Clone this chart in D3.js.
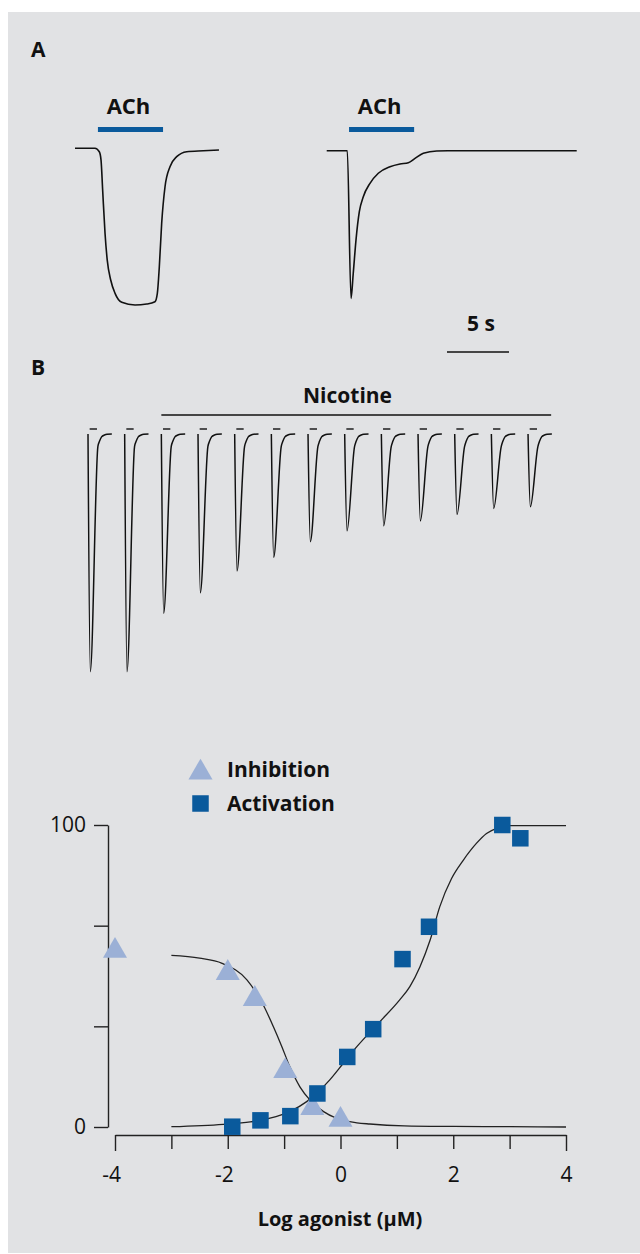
<!DOCTYPE html>
<html><head><meta charset="utf-8">
<script src="https://cdn.jsdelivr.net/npm/d3@7"></script>
<style>
body{margin:0;background:#fff}
svg{display:block}
text{font-family:"Open Sans","Noto Sans",sans-serif;fill:#111}
</style>
</head><body><svg id="c" width="640" height="1254"></svg>
<script>
// ---------- Panel A data (time in s, current normalised to peak of first trace) ----------
const traceA1 = [[0,0.011],[1.61,0.011],[1.96,-0.011],[2.10,-0.065],[2.23,-0.258],[2.42,-0.535],[2.60,-0.710],[2.88,-0.839],[3.23,-0.925],[3.77,-0.983],[4.84,-1.0],[5.78,-0.994],[6.45,-0.979],[6.64,-0.925],[6.80,-0.753],[6.99,-0.473],[7.26,-0.237],[7.66,-0.108],[8.20,-0.043],[9.01,-0.011],[10.35,-0.005],[11.61,0]];
const traceA2 = [[20.30,-0.005],[21.96,-0.005],[22.26,-0.957],[22.44,-0.795],[22.66,-0.581],[22.93,-0.398],[23.25,-0.301],[23.79,-0.215],[24.46,-0.150],[25.40,-0.108],[26.21,-0.090],[26.88,-0.082],[27.42,-0.054],[28.09,-0.021],[29.17,-0.006],[30.51,-0.005],[40.46,-0.005]];
const achPulses = [[1.85,7.1],[22.1,27.35]];
const achLabel = "ACh";
const scaleBarSec = [30,35];
const scaleBarLabel = "5 s";

// ---------- Panel B data (time in pulse intervals, current in % of first response) ----------
const spikeAmps = [100,100,75.4,66.8,57.6,51.9,45.3,40.7,38.6,36.6,33.8,31.3,30.6];
const spikePeakT = 0.063;
const spikeTail = [[0.27,-5.2],[0.31,-3.2],[0.37,-1.2],[0.45,-0.4],[0.52,-0.1],[0.65,0]];
const pulseOn = [0.045,0.245];
const nicotineOn = [2,12.63];
const nicotineLabel = "Nicotine";

// ---------- Panel C data ----------
const inhibX = [-4,-2,-1.52,-0.98,-0.5,0];
const inhibY = [58.3,51.0,42.4,18.5,6.3,2.4];
const actX = [-1.92,-1.42,-0.89,-0.41,0.12,0.58,1.10,1.57,2.87,3.19];
const actY = [0.1,2.2,3.6,11.1,23.2,32.4,55.6,66.3,100,95.6];
const inhibFit = [[-3,56.8],[-2.5,55.9],[-2.1,54.2],[-1.66,48.7],[-1.37,40.4],[-1.19,33.2],[-1.04,26.6],[-0.9,20],[-0.72,13.3],[-0.54,8.9],[-0.3,5.1],[-0.07,2.9],[0.29,1.4],[0.52,1.0],[1.13,0.4],[2,0.2],[3,0.1],[4,0]];
const actFit = [[-3,0.1],[-2.08,0.9],[-1.6,1.7],[-1.25,2.9],[-0.9,5.1],[-0.6,8.4],[-0.42,11.2],[-0.19,15.6],[0.05,21.1],[0.29,26.6],[0.7,34.9],[1.05,42.1],[1.23,46.5],[1.41,53.1],[1.59,61.9],[1.76,72.9],[1.97,82.3],[2.18,88.4],[2.41,93.9],[2.59,97.2],[2.77,98.9],[3.01,99.8],[4,99.8]];
const xTicks = [-4,-3,-2,-1,0,1,2,3,4];
const yTicks = [0,100/3,200/3,100];
const yTickLabels = {0:"0",100:"100"};
const legendNames = ["Inhibition","Activation"];
const xTitle = "Log agonist (\u03bcM)";
const panelLabels = ["A","B"];

const BLUE = "#0a5a9c", LIGHT = "#9bb0d6", INK = "#111", BG = "#e1e2e4";

const svg = d3.select("#c");
svg.append("rect").attr("x",8).attr("y",12).attr("width",632).attr("height",1241).attr("fill",BG);

// panel labels
svg.append("text").attr("x",31).attr("y",57).attr("font-size",21).attr("font-weight",700).text(panelLabels[0]);
svg.append("text").attr("x",31).attr("y",375).attr("font-size",21).attr("font-weight",700).text(panelLabels[1]);

// ---------- Panel A ----------
const xA = d3.scaleLinear().domain([0,5]).range([75,137]);
const yA = d3.scaleLinear().domain([0,-1]).range([150,305]);
const lineA = d3.line().x(d=>xA(d[0])).y(d=>yA(d[1])).curve(d3.curveMonotoneX);
[traceA1, traceA2].forEach(tr=>{
  svg.append("path").attr("d",lineA(tr)).attr("fill","none").attr("stroke",INK).attr("stroke-width",1.6);
});
achPulses.forEach(p=>{
  svg.append("line").attr("x1",xA(p[0])).attr("x2",xA(p[1])).attr("y1",yA(0)-20.5).attr("y2",yA(0)-20.5)
    .attr("stroke",BLUE).attr("stroke-width",5);
  svg.append("text").attr("x",(xA(p[0])+xA(p[1]))/2-2).attr("y",yA(0)-36.5).attr("text-anchor","middle")
    .attr("font-size",22).attr("font-weight",700).text(achLabel);
});
svg.append("line").attr("x1",xA(scaleBarSec[0])).attr("x2",xA(scaleBarSec[1])).attr("y1",352).attr("y2",352)
  .attr("stroke",INK).attr("stroke-width",1.4);
svg.append("text").attr("x",(xA(scaleBarSec[0])+xA(scaleBarSec[1]))/2+3).attr("y",331).attr("text-anchor","middle")
  .attr("font-size",21).attr("font-weight",700).text(scaleBarLabel);

// ---------- Panel B ----------
const xB = d3.scaleLinear().domain([0,13]).range([88,88+13*36.67]);
const yB = d3.scaleLinear().domain([0,-100]).range([434,671.7]);
const lineB = d3.line().x(d=>xB(d[0])).y(d=>yB(d[1])).curve(d3.curveMonotoneX);
spikeAmps.forEach((a,i)=>{
  const pts = [[i,0],[i+spikePeakT,-a]].concat(spikeTail.map(d=>[i+d[0],d[1]]));
  svg.append("path").attr("d",lineB(pts)).attr("fill","none").attr("stroke",INK).attr("stroke-width",1.5);
  svg.append("line").attr("x1",xB(i+pulseOn[0])).attr("x2",xB(i+pulseOn[1]))
    .attr("y1",yB(0)-5).attr("y2",yB(0)-5).attr("stroke",INK).attr("stroke-width",1.4);
});
svg.append("line").attr("x1",xB(nicotineOn[0])).attr("x2",xB(nicotineOn[1]))
  .attr("y1",yB(0)-19).attr("y2",yB(0)-19).attr("stroke",INK).attr("stroke-width",1.4);
svg.append("text").attr("x",347.5).attr("y",403).attr("text-anchor","middle")
  .attr("font-size",21).attr("font-weight",700).text(nicotineLabel);

// ---------- Panel C ----------
const xC = d3.scaleLinear().domain([-4,4]).range([115,566]);
const yC = d3.scaleLinear().domain([0,100]).range([1127,825]);

const yAx = svg.append("g").attr("transform","translate(108,0)")
  .call(d3.axisLeft(yC).tickValues(yTicks).tickFormat(d=>yTickLabels[Math.round(d)]&&(Math.abs(d-Math.round(d))<1e-6)?yTickLabels[Math.round(d)]:"")
    .tickSize(14).tickSizeOuter(0).tickPadding(8));
const xAx = svg.append("g").attr("transform","translate(0,1135)")
  .call(d3.axisBottom(xC).tickValues(xTicks).tickFormat(d=>d%2===0?String(d):"").tickSize(14).tickSizeOuter(0));
[yAx,xAx].forEach(g=>{
  g.attr("font-family",null).attr("font-size",null);
  g.selectAll("path,line").attr("stroke","#222").attr("stroke-width",1.4);
  g.selectAll("text").attr("font-size",21).attr("fill",INK);
});
xAx.selectAll(".tick text").attr("y",46.5).attr("dy",0).attr("dx",d=>d<0?-4:0);
xAx.selectAll(".tick line").attr("y2",d=>Math.abs(d)===4?16:14);

const lineC = d3.line().x(d=>xC(d[0])).y(d=>yC(d[1])).curve(d3.curveMonotoneX);
[inhibFit, actFit].forEach(f=>{
  svg.append("path").attr("d",lineC(f)).attr("fill","none").attr("stroke","#222").attr("stroke-width",1.3);
});

const tri = d3.symbol().type(d3.symbolTriangle).size(250);
svg.append("g").selectAll("path").data(inhibX.map((x,i)=>[x,inhibY[i]])).join("path")
  .attr("d",tri).attr("transform",d=>`translate(${xC(d[0])},${yC(d[1])})`).attr("fill",LIGHT);
const sq = 16.5;
svg.append("g").selectAll("rect").data(actX.map((x,i)=>[x,actY[i]])).join("rect")
  .attr("x",d=>xC(d[0])-sq/2).attr("y",d=>yC(d[1])-sq/2).attr("width",sq).attr("height",sq).attr("fill",BLUE);

// legend
svg.append("path").attr("d",tri).attr("transform","translate(200.5,772.5)").attr("fill",LIGHT);
svg.append("rect").attr("x",200.5-sq/2).attr("y",803.5-sq/2).attr("width",sq).attr("height",sq).attr("fill",BLUE);
svg.append("text").attr("x",227).attr("y",777).attr("font-size",21).attr("font-weight",700).text(legendNames[0]);
svg.append("text").attr("x",227).attr("y",811).attr("font-size",21).attr("font-weight",700).text(legendNames[1]);

svg.append("text").attr("x",340).attr("y",1226).attr("text-anchor","middle")
  .attr("font-size",20).attr("font-weight",700).text(xTitle);
</script></body></html>
